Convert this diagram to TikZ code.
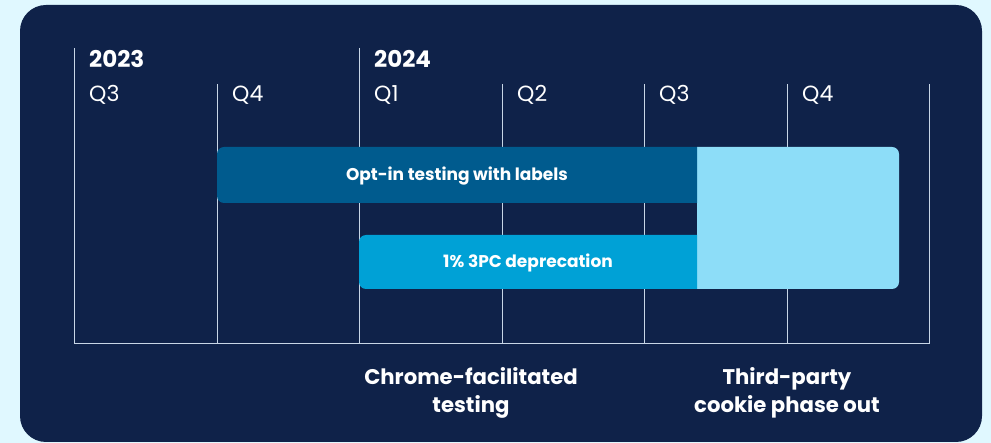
\documentclass[tikz,border=0pt]{standalone}
\usepackage{fontspec}
\setmainfont{Poppins}
\definecolor{pagebg}{HTML}{E0F8FF}
\definecolor{navy}{HTML}{0F2249}
\definecolor{gridline}{HTML}{C8D6E6}
\definecolor{optbar}{HTML}{005B8E}
\definecolor{depbar}{HTML}{00A1D6}
\definecolor{phasebar}{HTML}{8DDDF8}
\tikzset{
  year/.style={anchor=base west, inner sep=0pt, text=white, font=\bfseries\fontsize{23}{26}\selectfont},
  quarter/.style={anchor=base west, inner sep=0pt, text=white, font=\fontsize{22}{25}\selectfont},
  bartext/.style={inner sep=0pt, text=white, font=\bfseries\fontsize{17}{20}\selectfont},
  milestone/.style={inner sep=0pt, text=white, align=center, font=\bfseries\fontsize{21.2}{28}\selectfont},
  grid/.style={draw=gridline, line width=1pt}
}
\begin{document}
\begin{tikzpicture}[x=1pt, y=-1pt]
    \useasboundingbox (0,0) rectangle (991,443);
    \fill[pagebg] (0,0) rectangle (991,443);
    \fill[navy, rounded corners=26pt] (20,5) rectangle (982,442);

    % quarter lines
    \foreach \x in {217,502,644,787,929}
        \draw[grid] (\x,84) -- (\x,344);
    % year lines
    \foreach \x in {74,359}
        \draw[grid] (\x,48) -- (\x,344);
    \draw[grid] (74,344) -- (929,344);

    % labels
    \node[year] (y2023) at (89,68) {2023};
    \node[year] (y2024) at (374,68) {2024};
    \foreach \q/\x [count=\i] in {Q3/89,Q4/232,Q1/374,Q2/517,Q3/659,Q4/802}
        \node[quarter] (q\i) at (\x,102) {\q};

    % bars
    \fill[phasebar, rounded corners=7pt] (697,147) -- (899,147) -- (899,289) -- (697,289);
    \fill[optbar, rounded corners=7pt] (697,147) -- (217,147) -- (217,203) -- (697,203);
    \fill[depbar, rounded corners=7pt] (697,235) -- (359,235) -- (359,289) -- (697,289);
    \node[bartext] (optin) at (457,176) {Opt-in testing with labels};
    \node[bartext] (deprec) at (528,263) {1\% 3PC deprecation};

    % milestones
    \node[milestone, anchor=base] (chrome) at (471,413) {Chrome-facilitated\\testing};
    \node[milestone, anchor=base] (phaseout) at (787,413) {Third-party\\cookie phase out};
\end{tikzpicture}
\end{document}
